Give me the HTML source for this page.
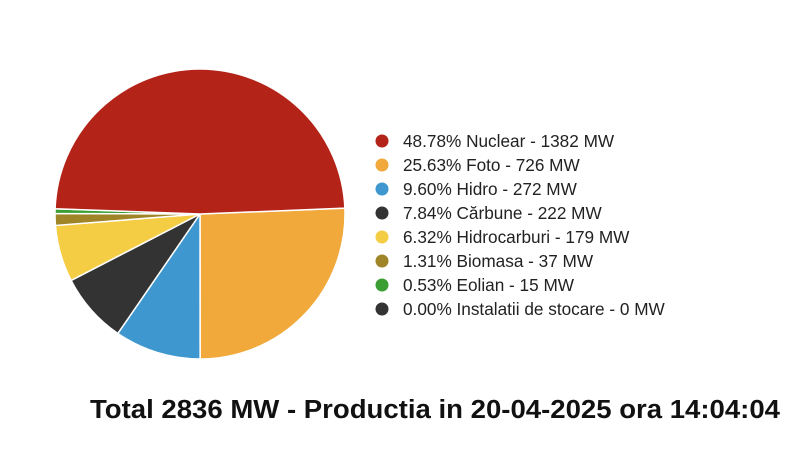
<!DOCTYPE html>
<html><head><meta charset="utf-8"><style>
html,body{margin:0;padding:0;background:#fff;}
body{width:800px;height:459px;overflow:hidden;font-family:"Liberation Sans",Arial,sans-serif;}
</style></head><body>
<svg id="chart" width="800" height="459" xmlns="http://www.w3.org/2000/svg">
<g id="slices"></g>
<g id="legend"></g>
<text x="90" y="418" textLength="690" lengthAdjust="spacingAndGlyphs" font-family="Liberation Sans, Arial, sans-serif" font-weight="bold" font-size="25.5" fill="#111">Total 2836 MW - Productia in 20-04-2025 ora 14:04:04</text>
</svg>
<script>
const categories = ["Nuclear","Foto","Hidro","Cărbune","Hidrocarburi","Biomasa","Eolian","Instalatii de stocare"];
const values = [1382,726,272,222,179,37,15,0];
const percents = ["48.78%","25.63%","9.60%","7.84%","6.32%","1.31%","0.53%","0.00%"];
const colors = ["#b42318","#f0a93a","#3e97cf","#333333","#f4cd45","#9f8527","#3a9e32","#333333"];
const NS="http://www.w3.org/2000/svg";
const cx=200, cy=214, r=145;
const total=values.reduce((a,b)=>a+b,0);
const startDeg=-2.3;
const order=[1,2,3,4,5,6,7,0];
let ang=startDeg;
const sg=document.getElementById('slices');
function pt(a){const t=a*Math.PI/180;return [cx+r*Math.cos(t),cy+r*Math.sin(t)];}
order.forEach(i=>{
  const sweep=values[i]/total*360;
  if(sweep<=0) return;
  const a0=ang, a1=ang+sweep; ang=a1;
  const p0=pt(a0), p1=pt(a1);
  const p=document.createElementNS(NS,'path');
  p.setAttribute('d',`M${cx},${cy}L${p0[0]},${p0[1]}A${r},${r} 0 ${sweep>180?1:0} 1 ${p1[0]},${p1[1]}Z`);
  p.setAttribute('fill',colors[i]);
  p.setAttribute('stroke','#fff');
  p.setAttribute('stroke-width','1.5');
  
  
  sg.appendChild(p);
});
const lg=document.getElementById('legend');
categories.forEach((c,i)=>{
  const y=141+i*24;
  const g=document.createElementNS(NS,'g');
  
  
  const d=document.createElementNS(NS,'circle');
  d.setAttribute('cx',382);d.setAttribute('cy',y);d.setAttribute('r',6.5);d.setAttribute('fill',colors[i]);
  
  
  const t=document.createElementNS(NS,'text');
  t.setAttribute('x',403);t.setAttribute('y',y+6);
  t.setAttribute('font-size','17.2');t.setAttribute('fill','#222');
  t.setAttribute('font-family','Liberation Sans, Arial, sans-serif');
  t.textContent=`${percents[i]} ${c} - ${values[i]} MW`;
  
  
  g.appendChild(d);g.appendChild(t);lg.appendChild(g);
});
</script>
</body></html>
